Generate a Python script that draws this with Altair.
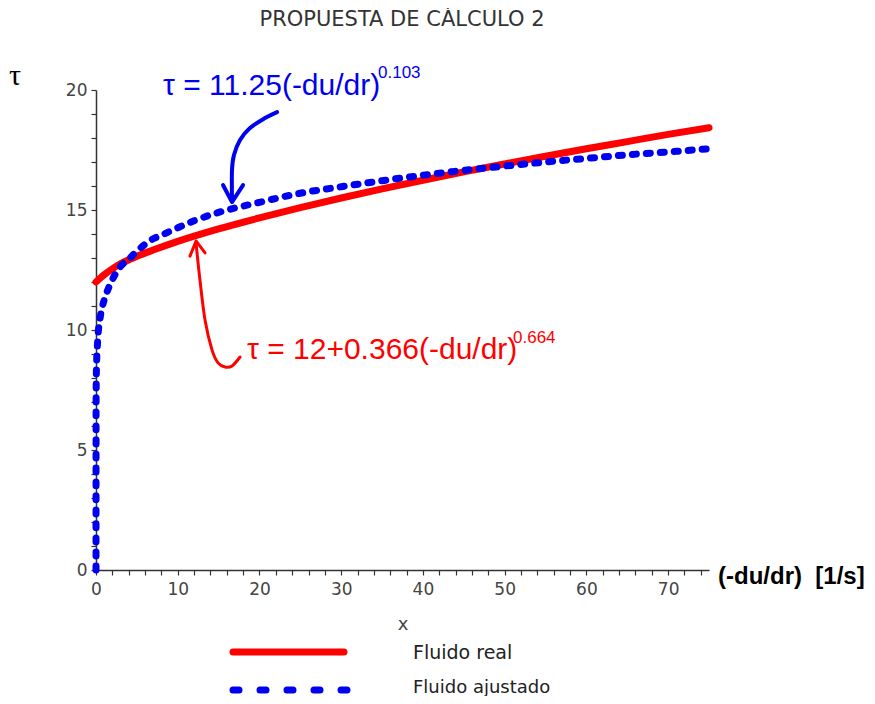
import altair as alt
import pandas as pd

# ---- data ----
red_x = [0, 1, 2, 3, 5, 7, 10, 15, 20, 25, 30, 35, 40, 45, 50, 55, 60, 65, 70, 75]
red_y = [12.0, 12.3, 12.55, 12.76, 13.07, 13.33, 13.69, 14.21, 14.67, 15.10, 15.50,
         15.88, 16.24, 16.59, 16.92, 17.24, 17.55, 17.85, 18.15, 18.43]

blue_x = [0, 0.01, 0.05, 0.2, 0.5, 1, 1.5, 2, 3, 4, 5, 7, 8, 10, 12, 15, 20, 25, 30,
          35, 40, 45, 50, 55, 60, 65, 70, 75]
blue_y = [0.0, 7.0, 8.3, 9.53, 10.48, 11.25, 11.72, 12.1, 12.65, 12.95, 13.28, 13.8,
          13.95, 14.26, 14.55, 14.9, 15.32, 15.7, 15.97, 16.22, 16.45, 16.65, 16.83,
          17.0, 17.15, 17.3, 17.42, 17.55]

# annotation arrows (data coordinates)
blue_arrow_x = [22.15, 20.68, 18.84, 17.62, 16.88, 16.64, 16.64]
blue_arrow_y = [19.08, 18.83, 18.42, 17.92, 17.29, 16.67, 15.42]
blue_head_x = [15.54, 16.64, 17.99]
blue_head_y = [16.04, 15.33, 16.04]

red_arrow_x = [12.24, 12.72, 13.34, 14.19, 14.93, 15.78, 16.64, 17.62]
red_arrow_y = [13.62, 12.08, 10.42, 9.17, 8.63, 8.46, 8.5, 8.875]
red_head_x = [11.50, 12.24, 13.34]
red_head_y = [13.08, 13.71, 13.21]

legend_labels = ["Fluido real", "Fluido ajustado"]

RED = "#ff0000"
BLUE = "#0000f0"

df_red = pd.DataFrame({"x": red_x, "y": red_y})
df_blue = pd.DataFrame({"x": blue_x, "y": blue_y})

xs = alt.Scale(domain=[0, 75], nice=False, zero=True)
ys = alt.Scale(domain=[0, 20], nice=False, zero=True)

xaxis = alt.Axis(
    values=list(range(0, 76, 2)),
    labelExpr="datum.value % 10 == 0 ? datum.label : ''",
    title="x", titleFont="DejaVu Sans", titleFontSize=18, titleFontWeight="normal",
    titleColor="#444", titlePadding=18,
    grid=False, domainColor="#333", domainWidth=1.5, tickColor="#333", tickSize=5,
    tickWidth=1.2, labelFont="DejaVu Sans", labelFontSize=17, labelColor="#444",
    labelPadding=6, labelOverlap=False, labelFlush=False,
)
yaxis = alt.Axis(
    values=list(range(0, 21)),
    labelExpr="datum.value % 5 == 0 ? datum.label : ''",
    title=None, grid=False, domainColor="#333", domainWidth=1.5, tickColor="#333",
    tickSize=5, tickWidth=1.2, labelFont="DejaVu Sans", labelFontSize=17,
    labelColor="#444", labelPadding=4, labelOverlap=False, labelFlush=False,
)

X = alt.X("x:Q", scale=xs, axis=xaxis)
Y = alt.Y("y:Q", scale=ys, axis=yaxis)

red = alt.Chart(df_red).mark_line(
    color=RED, strokeWidth=7, strokeCap="round", strokeJoin="round",
    interpolate="monotone",
).encode(x=X, y=Y)

blue = alt.Chart(df_blue).mark_line(
    color=BLUE, strokeWidth=7, strokeDash=[4, 10], strokeCap="round",
    strokeJoin="round", interpolate="monotone",
).encode(x=X, y=Y)


def arrow(xv, yv, color, width, interp):
    d = pd.DataFrame({"x": xv, "y": yv, "o": list(range(len(xv)))})
    return alt.Chart(d).mark_line(
        color=color, strokeWidth=width, strokeCap="round", strokeJoin="round",
        interpolate=interp,
    ).encode(x=X, y=Y, order="o:Q")


blue_arrow = arrow(blue_arrow_x, blue_arrow_y, BLUE, 4, "cardinal")
blue_head = arrow(blue_head_x, blue_head_y, BLUE, 4, "linear")
red_arrow = arrow(red_arrow_x, red_arrow_y, RED, 3, "cardinal")
red_head = arrow(red_head_x, red_head_y, RED, 3, "linear")


def text(t, x, y, size, color="#000", font="Liberation Sans", weight="normal",
         align="left"):
    return alt.Chart(pd.DataFrame({"t": [t]})).mark_text(
        font=font, fontSize=size, color=color, fontWeight=weight, align=align,
        baseline="middle",
    ).encode(text="t:N", x=alt.value(x), y=alt.value(y))


title = text("PROPUESTA DE CÁLCULO 2", 306, -70, 21, "#333", "DejaVu Sans",
             align="center")
tau = text("τ", -81, -14, 30, "#000", "Liberation Serif", align="center")
blue_f = text("τ = 11.25(-du/dr)", 67, -4, 30, BLUE)
blue_sup = text("0.103", 282, -17, 17, BLUE)
red_f = text("τ = 12+0.366(-du/dr)", 151, 260, 30, RED)
red_sup = text("0.664", 417, 248, 17, RED)
xunit = text("(-du/dr)\u00a0\u00a0[1/s]", 622, 487, 24, "#000", weight="bold")

# legend (manual, below the axis)
leg_red = alt.Chart(pd.DataFrame({"s": [legend_labels[0]]})).mark_rule(
    color=RED, strokeWidth=7, strokeCap="round"
).encode(x=alt.value(137), x2=alt.value(248), y=alt.value(562))
leg_blue = alt.Chart(pd.DataFrame({"s": [legend_labels[1]]})).mark_rule(
    color=BLUE, strokeWidth=7, strokeCap="round", strokeDash=[6, 21]
).encode(x=alt.value(137), x2=alt.value(255), y=alt.value(600))
leg_t1 = text(legend_labels[0], 317, 563, 19, "#222", "DejaVu Sans")
leg_t2 = text(legend_labels[1], 317, 598, 18, "#222", "DejaVu Sans")

chart = alt.layer(
    red, blue, blue_arrow, blue_head, red_arrow, red_head,
    title, tau, blue_f, blue_sup, red_f, red_sup, xunit,
    leg_red, leg_blue, leg_t1, leg_t2,
).properties(
    width=613, height=480,
    padding={"left": 88, "top": 82, "right": 158, "bottom": 126},
    autosize=alt.AutoSizeParams(type="none"),
    background="#ffffff",
).configure_view(stroke=None)

chart.save("out.html", embed_options={"renderer": "svg", "actions": False})
